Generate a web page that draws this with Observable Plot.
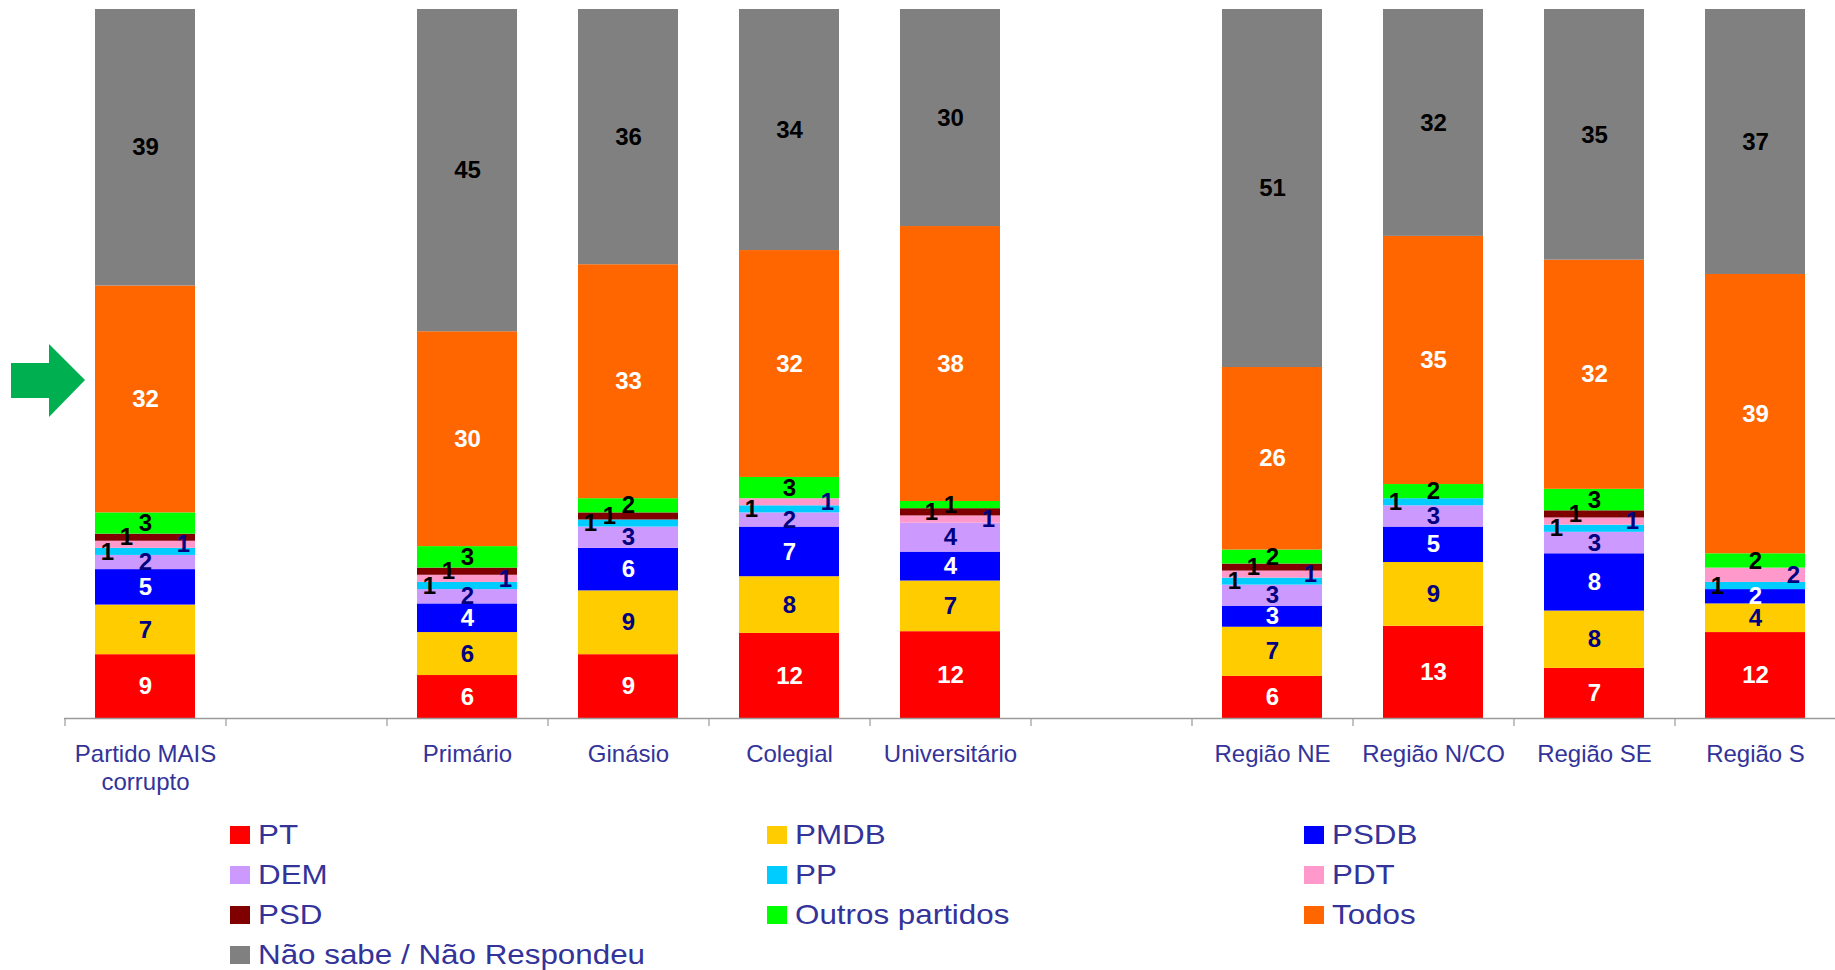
<!DOCTYPE html>
<html><head><meta charset="utf-8">
<script src="https://cdn.jsdelivr.net/npm/d3@7"></script>
<script src="https://cdn.jsdelivr.net/npm/@observablehq/plot@0.6"></script>
<style>
html,body{margin:0;padding:0;background:#fff;overflow:hidden;}
body{width:1835px;height:970px;position:relative;font-family:"Liberation Sans",Arial,sans-serif;}
#chart{position:absolute;left:0;top:0;}
#arrow{position:absolute;left:0;top:0;}
#legend{position:absolute;left:230px;top:815px;display:grid;grid-template-columns:537px 537px 537px;grid-auto-rows:40px;}
.item{display:flex;align-items:center;}
.sw{width:20px;height:18px;margin-right:8px;flex:none;}
.lab{font-size:28px;color:#333399;display:inline-block;transform:scaleX(1.12);transform-origin:left center;white-space:nowrap;}
</style></head><body>
<div id="chart"></div>
<svg id="arrow" width="100" height="450"><polygon points="11,363 49,363 49,344 85,380 49,417 49,398 11,398" fill="#00B050"/></svg>
<div id="legend"></div>
<script>
// ---- data ----
const categories = ["Partido MAIS\ncorrupto", "_gap1", "Primário", "Ginásio", "Colegial", "Universitário", "_gap2", "Região NE", "Região N/CO", "Região SE", "Região S"];
const series = ["PT", "PMDB", "PSDB", "DEM", "PP", "PDT", "PSD", "Outros partidos", "Todos", "Não sabe / Não Respondeu"];

const vPartido       = [9, 7, 5, 2, 1, 1, 1, 3, 32, 39];
const vPrimario      = [6, 6, 4, 2, 1, 1, 1, 3, 30, 45];
const vGinasio       = [9, 9, 6, 3, 1, 0, 1, 2, 33, 36];
const vColegial      = [12, 8, 7, 2, 1, 1, 0, 3, 32, 34];
const vUniversitario = [12, 7, 4, 4, 0, 1, 1, 1, 38, 30];
const vRegiaoNE      = [6, 7, 3, 3, 1, 1, 1, 2, 26, 51];
const vRegiaoNCO     = [13, 9, 5, 3, 1, 0, 0, 2, 35, 32];
const vRegiaoSE      = [7, 8, 8, 3, 1, 1, 1, 3, 32, 35];
const vRegiaoS       = [12, 4, 2, 0, 1, 2, 0, 2, 39, 37];

const valuesByCategory = [
  ["Partido MAIS\ncorrupto", vPartido],
  ["Primário", vPrimario],
  ["Ginásio", vGinasio],
  ["Colegial", vColegial],
  ["Universitário", vUniversitario],
  ["Região NE", vRegiaoNE],
  ["Região N/CO", vRegiaoNCO],
  ["Região SE", vRegiaoSE],
  ["Região S", vRegiaoS]
];

// ---- styles ----
const colors = ["#FF0000", "#FFCC00", "#0000FF", "#CC99FF", "#00CCFF", "#FF99CC", "#800000", "#00FF00", "#FF6600", "#808080"];
const navy = "#000080";
const labelFill = {"PT": "white", "PMDB": navy, "PSDB": "white", "DEM": navy, "PP": "black", "PDT": navy, "PSD": "black", "Outros partidos": "black", "Todos": "white", "Não sabe / Não Respondeu": "black"};
const labelShift = {"PP": -38, "PDT": 38, "PSD": -19};

const rows = [];
for (const [category, vals] of valuesByCategory) {
  vals.forEach((value, i) => rows.push({category, series: series[i], value}));
}

const W = 1835, H = 800, mL = 64, mR = 0, mT = 9, mB = 82;
const step = (W - mL - mR) / categories.length;
const common = {x: "category", y: "value", z: "series", order: series, offset: "normalize"};

const labelMarks = series.map(s => Plot.text(rows, Plot.stackY({...common,
  text: d => d.series === s && d.value > 0 ? String(d.value) : null,
  fill: labelFill[s], dx: labelShift[s] || 0, fontSize: 24, fontWeight: "bold"})));

const chart = Plot.plot({
  width: W, height: H,
  marginLeft: mL, marginRight: mR, marginTop: mT, marginBottom: mB,
  style: {fontFamily: "'Liberation Sans', Arial, sans-serif", background: "transparent", overflow: "visible"},
  x: {domain: categories, paddingInner: 0.38, paddingOuter: 0.19, label: null},
  y: {domain: [0, 1], axis: null},
  color: {domain: series, range: colors},
  marks: [
    Plot.barY(rows, Plot.stackY({...common, fill: "series"})),
    Plot.ruleY([0], {stroke: "#9a9a9a", strokeWidth: 1.5}),
    Plot.axisX({tickSize: 8, stroke: "#9a9a9a", strokeWidth: 1.2, tickFormat: () => "", dx: -step / 2}),
    Plot.axisX({tickSize: 0, tickPadding: 24, fontSize: 24, fill: "#333399", lineHeight: 1.15,
      tickFormat: d => d.startsWith("_") ? "" : d}),
    ...labelMarks
  ]
});
document.getElementById("chart").appendChild(chart);

// ---- legend ----
const legend = document.getElementById("legend");
series.forEach((s, i) => {
  const item = document.createElement("div");
  item.className = "item";
  const sw = document.createElement("span");
  sw.className = "sw";
  sw.style.background = colors[i];
  const lab = document.createElement("span");
  lab.className = "lab";
  lab.textContent = s;
  item.appendChild(sw);
  item.appendChild(lab);
  legend.appendChild(item);
});
</script>
</body></html>
